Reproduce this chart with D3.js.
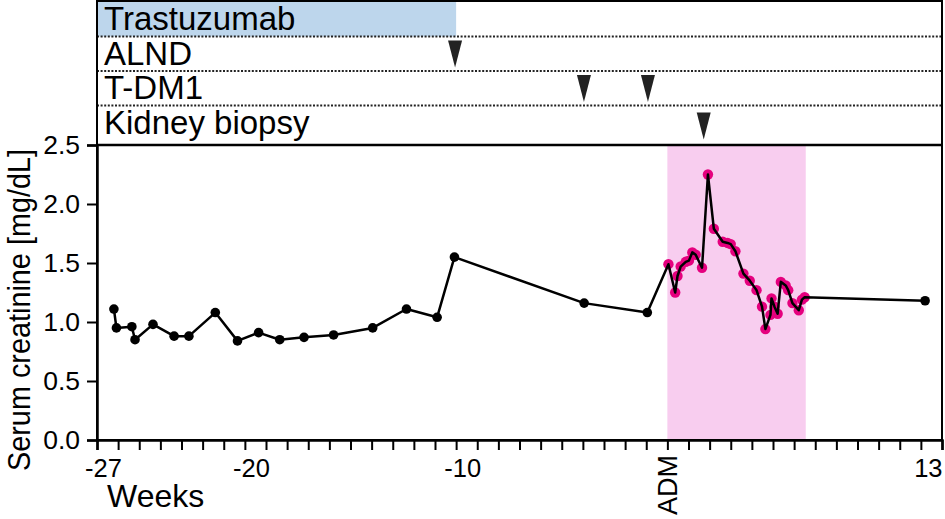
<!DOCTYPE html>
<html>
<head>
<meta charset="utf-8">
<script src="https://cdn.jsdelivr.net/npm/d3@7"></script>
<style>
  body { margin: 0; background: #fff; }
  svg { display: block; font-family: "Liberation Sans", Arial, sans-serif; }
</style>
</head>
<body>
<svg id="chart" width="945" height="519"></svg>
<script>
// Event rows in the top panel
const eventRows = ['Trastuzumab', 'ALND', 'T-DM1', 'Kidney biopsy'];
const trastuzumabSpan = [-27, -10];
const alndWeeks = [-10.05];
const tdm1Weeks = [-3.95, -0.92];
const biopsyWeeks = [1.72];

// Hospital stay after ADM (pink window)
const admissionSpan = [0, 6.55];

// Serum creatinine before admission
const beforeWeeks = [-26.2, -26.08, -25.35, -25.2, -24.35, -23.35, -22.65, -21.4, -20.35,
  -19.35, -18.35, -17.2, -15.8, -13.95, -12.35, -10.9, -10.08, -3.94, -0.95];
const beforeCr = [1.11, 0.95, 0.96, 0.85, 0.98, 0.88, 0.88, 1.08, 0.84,
  0.91, 0.85, 0.87, 0.89, 0.95, 1.11, 1.04, 1.55, 1.16, 1.08];

// Serum creatinine during the stay
const stayWeeks = [0.05, 0.37, 0.48, 0.63, 0.87, 1.02, 1.18, 1.34, 1.64, 1.92, 2.2, 2.62,
  2.85, 3.0, 3.22, 3.6, 3.9, 4.22, 4.48, 4.64, 4.88, 4.93, 5.07, 5.22, 5.37, 5.6,
  5.72, 5.92, 6.22, 6.37, 6.5];
const stayCr = [1.49, 1.25, 1.39, 1.47, 1.51, 1.52, 1.59, 1.57, 1.46, 2.25, 1.79, 1.68,
  1.67, 1.66, 1.60, 1.41, 1.35, 1.27, 1.13, 0.94, 1.06, 1.20, 1.13, 1.07, 1.34, 1.31,
  1.27, 1.16, 1.10, 1.19, 1.21];

// After discharge
const afterWeeks = [12.2];
const afterCr = [1.18];

// Axis ticks
const xTicks = d3.range(-27, 14);
const xLabelled = [-27, -20, -10, 13];
const yTicks = [0, 0.5, 1.0, 1.5, 2.0, 2.5];

const svg = d3.select('#chart');
const left = 97, right = 942, panelTop = 2, plotTop = 145, bottom = 440;

const x = d3.scaleLinear().domain([-27, 13]).range([left, right]);
const y = d3.scaleLinear().domain([0, 2.5]).range([bottom, plotTop]);
const row = d3.scaleBand().domain(eventRows).range([panelTop, 140]);

// ---- top panel ----
svg.append('rect')
  .attr('x', x(trastuzumabSpan[0]))
  .attr('y', row('Trastuzumab'))
  .attr('width', x(trastuzumabSpan[1]) - x(trastuzumabSpan[0]))
  .attr('height', row.bandwidth())
  .attr('fill', '#bdd6ec');

svg.append('g')
  .selectAll('line')
  .data(eventRows.slice(1))
  .enter()
  .append('line')
    .attr('x1', left).attr('x2', right)
    .attr('y1', d => row(d)).attr('y2', d => row(d))
    .attr('stroke', '#222')
    .attr('stroke-width', 2)
    .attr('stroke-dasharray', '2,1.6');

svg.append('g')
  .selectAll('text')
  .data(eventRows)
  .enter()
  .append('text')
    .attr('x', 104)
    .attr('y', d => row(d) + 28)
    .attr('font-size', 33)
    .attr('fill', '#000')
    .text(d => d);

const marks = [
  ...alndWeeks.map(w => ({row: 'ALND', w})),
  ...tdm1Weeks.map(w => ({row: 'T-DM1', w})),
  ...biopsyWeeks.map(w => ({row: 'Kidney biopsy', w}))
];
svg.append('g')
  .selectAll('path')
  .data(marks)
  .enter()
  .append('path')
    .attr('d', d => {
      const cx = x(d.w), t = row(d.row) + (d.row === 'Kidney biopsy' ? 7 : 4);
      return `M${cx - 7},${t}L${cx + 7},${t}L${cx},${t + 27}Z`;
    })
    .attr('fill', '#222');

// ---- lower panel ----
svg.append('rect')
  .attr('x', x(admissionSpan[0]))
  .attr('y', plotTop)
  .attr('width', x(admissionSpan[1]) - x(admissionSpan[0]))
  .attr('height', bottom - plotTop)
  .attr('fill', '#f8cdef');

// frame
svg.append('rect')
  .attr('x', left).attr('y', panelTop - 1)
  .attr('width', right - left).attr('height', bottom - panelTop + 1)
  .attr('fill', 'none').attr('stroke', '#000').attr('stroke-width', 2);
svg.append('line')
  .attr('x1', left).attr('x2', right)
  .attr('y1', plotTop).attr('y2', plotTop)
  .attr('stroke', '#000').attr('stroke-width', 2.5);

const stay = stayWeeks.map((w, i) => ({w, v: stayCr[i]}));
const before = beforeWeeks.map((w, i) => ({w, v: beforeCr[i]}));
const after = afterWeeks.map((w, i) => ({w, v: afterCr[i]}));
const all = [...before, ...stay, ...after];

svg.append('g')
  .selectAll('circle')
  .data(stay)
  .enter()
  .append('circle')
    .attr('cx', d => x(d.w))
    .attr('cy', d => y(d.v))
    .attr('r', 5.2)
    .attr('fill', '#e5007e');

svg.append('path')
  .datum(all)
  .attr('fill', 'none')
  .attr('stroke', '#000')
  .attr('stroke-width', 2.5)
  .attr('stroke-linejoin', 'round')
  .attr('d', d3.line().x(d => x(d.w)).y(d => y(d.v)));

svg.append('g')
  .selectAll('circle')
  .data([...before, ...after])
  .enter()
  .append('circle')
    .attr('cx', d => x(d.w))
    .attr('cy', d => y(d.v))
    .attr('r', 4.8)
    .attr('fill', '#000');

// axes
function xAxis(g) {
  g.attr('transform', `translate(0, ${bottom})`)
    .call(d3.axisBottom(x).tickValues(xTicks).tickSize(10).tickPadding(9)
      .tickFormat(d => xLabelled.includes(d) ? d : ''));
  g.select('.domain').attr('stroke-width', 2.5);
  g.selectAll('.tick line').attr('stroke-width', 2);
  g.selectAll('.tick text')
    .attr('font-size', 25.5)
    .attr('font-family', '"Liberation Sans", Arial, sans-serif')
    .attr('fill', '#000')
    .attr('dx', d => d < 0 ? 6 : 0)
    .attr('text-anchor', d => d === 13 ? 'end' : 'middle');
}

function yAxis(g) {
  g.attr('transform', `translate(${left}, 0)`)
    .call(d3.axisLeft(y).tickValues(yTicks).tickSize(10).tickPadding(7).tickFormat(d3.format('.1f')));
  g.select('.domain').attr('stroke-width', 2.5);
  g.selectAll('.tick line').attr('stroke-width', 2);
  g.selectAll('.tick text')
    .attr('font-size', 26.5)
    .attr('font-family', '"Liberation Sans", Arial, sans-serif')
    .attr('fill', '#000');
}

svg.append('g').call(xAxis);
svg.append('g').call(yAxis);

svg.append('text')
  .attr('transform', `translate(${x(0) + 10}, 455) rotate(-90)`)
  .attr('text-anchor', 'end')
  .attr('font-size', 27)
  .text('ADM');

svg.append('text')
  .attr('x', 107).attr('y', 507)
  .attr('font-size', 32)
  .text('Weeks');

svg.append('text')
  .attr('transform', `translate(30, 310) rotate(-90)`)
  .attr('text-anchor', 'middle')
  .attr('font-size', 31)
  .attr('textLength', 322)
  .attr('lengthAdjust', 'spacingAndGlyphs')
  .text('Serum creatinine [mg/dL]');
</script>
</body>
</html>
